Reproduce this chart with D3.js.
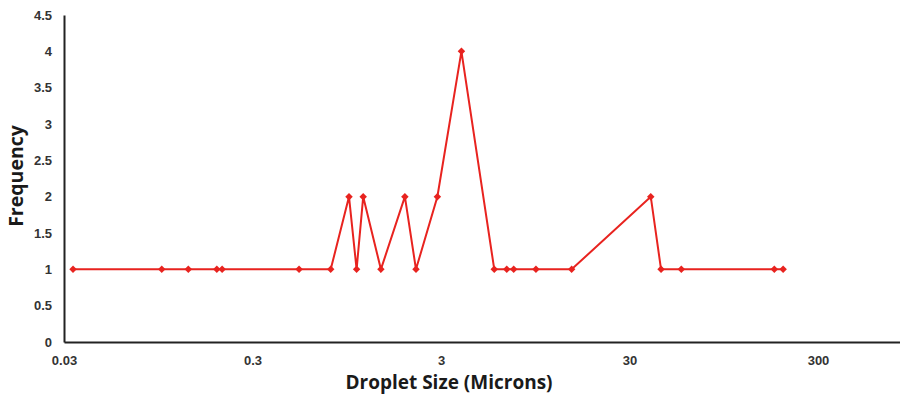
<!DOCTYPE html>
<html>
<head>
<meta charset="utf-8">
<script src="https://cdn.jsdelivr.net/npm/d3@7"></script>
<style>
  body { margin: 0; background: #fff; }
  svg { display: block; font-family: "Open Sans", "Liberation Sans", sans-serif; }
</style>
</head>
<body>
<svg id="chart" width="900" height="395"></svg>
<script>
// droplet sizes (microns) and how often each was seen
const sizes = [0.0335, 0.099, 0.137, 0.194, 0.207, 0.53, 0.78, 0.975, 1.07, 1.16,
  1.44, 1.93, 2.21, 2.87, 3.85, 5.75, 6.7, 7.29, 9.57, 14.8, 38.9, 44.1, 56.5, 176, 196];
const frequency = [1, 1, 1, 1, 1, 1, 1, 2, 1, 2, 1, 2, 1, 2, 4, 1, 1, 1, 1, 1, 2, 1, 1, 1, 1];
const xTicks = [0.03, 0.3, 3, 30, 300];
const yTicks = [0, 0.5, 1, 1.5, 2, 2.5, 3, 3.5, 4, 4.5];

const svg = d3.select('#chart');
const plotLeft = 64, plotBottom = 342, plotTop = 15;

// axis runs to 3000, the picture is cut at the right edge
const x = d3.scaleLog().domain([0.03, 3000]).range([plotLeft, plotLeft + 5 * 188.5]);
const y = d3.scaleLinear().domain([0, 4.5]).range([plotBottom, plotTop]);

// y axis
svg.append('g')
  .attr('transform', `translate(${plotLeft},0)`)
  .call(d3.axisLeft(y).tickValues(yTicks).tickSize(0).tickPadding(12).tickFormat(d3.format('~g')))
  .call(g => g.select('.domain').attr('stroke', '#222').attr('stroke-width', 2))
  .call(g => g.selectAll('text').attr('fill', '#333').style('font-size', '13px').style('font-weight', 600));

// x axis
svg.append('g')
  .attr('transform', `translate(0,${plotBottom})`)
  .call(d3.axisBottom(x).tickValues(xTicks).tickSize(0).tickPadding(14).tickFormat(d => String(d)))
  .call(g => g.select('.domain').attr('stroke', '#222').attr('stroke-width', 2))
  .call(g => g.selectAll('text').attr('fill', '#333').style('font-size', '13px').style('font-weight', 600));

const pts = sizes.map((s, i) => ({ s, f: frequency[i] }));

svg.append('path')
  .datum(pts)
  .attr('fill', 'none')
  .attr('stroke', '#e8231f')
  .attr('stroke-width', 2)
  .attr('d', d3.line().x(d => x(d.s)).y(d => y(d.f)));

// square markers turned 45 degrees
svg.append('g').selectAll('path')
  .data(pts)
  .join('path')
  .attr('transform', d => `translate(${x(d.s)},${y(d.f)}) rotate(45)`)
  .attr('d', d3.symbol(d3.symbolSquare, 28))
  .attr('fill', '#e8231f');

// titles
svg.append('text')
  .attr('x', 449).attr('y', 389)
  .attr('text-anchor', 'middle')
  .style('font-size', '19px').style('font-weight', 'bold').attr('fill', '#1a1a1a')
  .text('Droplet Size (Microns)');

svg.append('text')
  .attr('transform', 'translate(23,176) rotate(-90)')
  .attr('text-anchor', 'middle')
  .style('font-size', '19.5px').style('font-weight', 'bold').attr('fill', '#1a1a1a')
  .text('Frequency');
</script>
</body>
</html>
